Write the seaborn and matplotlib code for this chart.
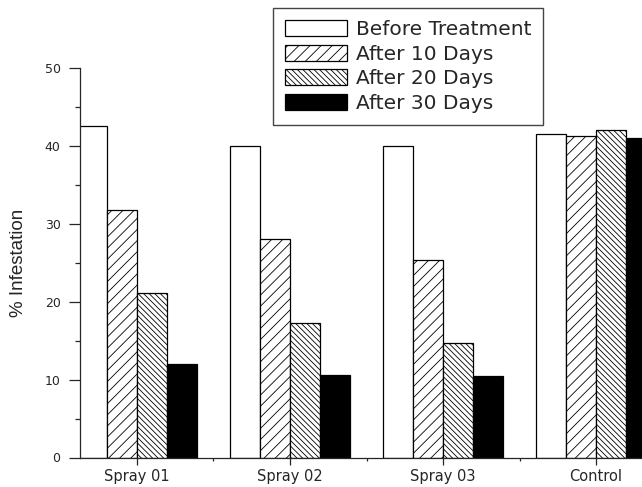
import pandas as pd
import matplotlib
matplotlib.use("Agg")
import matplotlib.pyplot as plt
import matplotlib.patches as mpatches
from matplotlib.ticker import MultipleLocator, FixedLocator
import seaborn as sns

treatments = ["Spray 01", "Spray 02", "Spray 03", "Control"]
periods = ["Before Treatment", "After 10 Days", "After 20 Days", "After 30 Days"]
before = [42.6, 40.0, 40.0, 41.5]
after_10 = [31.8, 28.0, 25.3, 41.3]
after_20 = [21.1, 17.3, 14.7, 42.0]
after_30 = [12.0, 10.6, 10.4, 41.0]

# long form table for seaborn
rows = []
for period, vals in zip(periods, [before, after_10, after_20, after_30]):
    for t, v in zip(treatments, vals):
        rows.append({"Treatment": t, "Period": period, "Infestation": v})
df = pd.DataFrame(rows)

sns.set_style("ticks")
plt.rcParams["font.family"] = ["DejaVu Sans"]
plt.rcParams["hatch.linewidth"] = 0.6

fills = ["white", "white", "white", "black"]
hatches = ["", "///", "\\\\\\\\\\\\", ""]

fig = plt.figure(figsize=(6.42, 4.87), dpi=100)
ax = fig.add_axes([80 / 642, 29.5 / 487, 573 / 642, 389.5 / 487])

sns.barplot(data=df, x="Treatment", y="Infestation", hue="Period",
            hue_order=periods, order=treatments, palette=fills,
            edgecolor="black", linewidth=0.9, width=0.785,
            saturation=1, legend=False, ax=ax)

for cont, h in zip(ax.containers, hatches):
    for bar in cont:
        bar.set_hatch(h)
        bar.set_edgecolor("black")

ax.set_xlim(-0.3725, 3.3725)
ax.set_ylim(0, 50)
ax.yaxis.set_major_locator(MultipleLocator(10))
ax.yaxis.set_minor_locator(MultipleLocator(5))
ax.xaxis.set_minor_locator(FixedLocator([0.5, 1.5, 2.5]))
ax.tick_params(axis="y", which="major", direction="out", length=8,
               width=0.9, labelsize=9, pad=6)
ax.tick_params(axis="y", which="minor", direction="out", length=3.6, width=0.9)
ax.tick_params(axis="x", which="major", direction="out", length=5,
               width=0.9, labelsize=10.5, pad=3)
ax.tick_params(axis="x", which="minor", direction="out", length=2.5, width=0.9)

ax.set_xlabel("")
ax.set_ylabel("% Infestation", fontsize=13.5, family="Liberation Sans")
ax.yaxis.set_label_coords((27 - 80) / 573, 0.5)
for s in ["top", "right"]:
    ax.spines[s].set_visible(False)
for s in ["left", "bottom"]:
    ax.spines[s].set_linewidth(0.9)

handles = [mpatches.Patch(facecolor=f, edgecolor="black", hatch=h, linewidth=0.9)
           for f, h in zip(fills, hatches)]
leg = fig.legend(handles, periods, loc="upper left",
                 bbox_to_anchor=(273 / 642, 1 - 8 / 487),
                 bbox_transform=fig.transFigure, fontsize=14.5,
                 handlelength=3.05, handleheight=0.85, handletextpad=0.45,
                 labelspacing=0.28, borderpad=0.6, borderaxespad=0,
                 fancybox=False, framealpha=1, edgecolor="#444444")
leg.get_frame().set_linewidth(1.0)
leg.set_zorder(5)

fig.savefig("out.png", dpi=100)
